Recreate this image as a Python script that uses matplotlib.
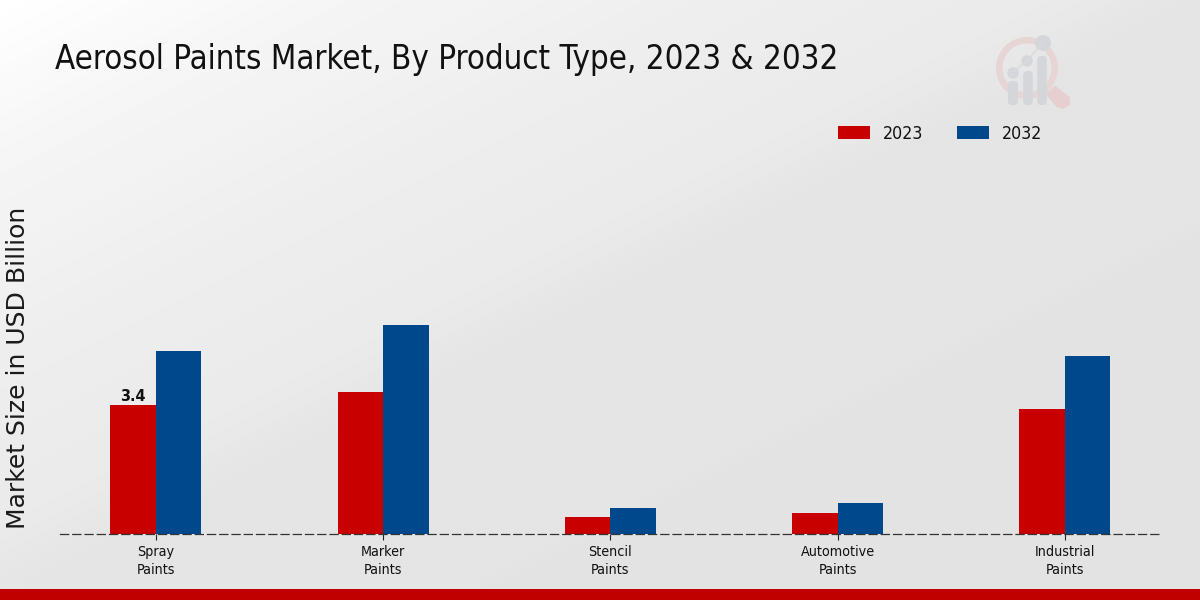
import numpy as np
import matplotlib
matplotlib.use("Agg")
import matplotlib.pyplot as plt
from matplotlib.font_manager import FontProperties
from matplotlib.patches import Circle, Wedge, FancyBboxPatch, Polygon, Rectangle
from matplotlib.lines import Line2D

categories = ["Spray\nPaints", "Marker\nPaints", "Stencil\nPaints", "Automotive\nPaints", "Industrial\nPaints"]
values_2023 = [3.4, 3.74, 0.46, 0.56, 3.3]
values_2032 = [4.82, 5.5, 0.69, 0.82, 4.68]
series_names = ["2023", "2032"]
title = "Aerosol Paints Market, By Product Type, 2023 & 2032"
ylabel = "Market Size in USD Billion"
RED = "#c80000"
BLUE = "#00488c"
COND = dict(family="DejaVu Sans", stretch="condensed")

fig = plt.figure(figsize=(12, 6), dpi=100)

# background gradient
bg = fig.add_axes([0, 0, 1, 1], zorder=0)
bg.axis("off")
yy, xx = np.mgrid[0:600:300j, 0:1200:600j]
t = xx * 0.5 + yy
g = np.interp(t, [0, 150, 350, 530, 600, 1110], [255, 246, 238, 234, 229, 227]) / 255
bg.imshow(g, cmap="gray", vmin=0, vmax=1, extent=[0, 1200, 600, 0], aspect="auto", interpolation="bilinear")
bg.set_xlim(0, 1200)
bg.set_ylim(600, 0)
bg.add_patch(Rectangle((0, 589), 1200, 11, color="#c00000", lw=0))

# watermark logo
LOGO_GREY = "#d4d6d9"
bg.add_patch(Wedge((1027, 68), 31, 0, 360, width=6.5, facecolor="#e7d5d6", edgecolor="none"))
bg.add_patch(Polygon([[1055, 87], [1069, 98], [1069, 104], [1063, 108], [1057, 106], [1047, 94]],
                     closed=True, facecolor="#e6cfd0", edgecolor="#e6cfd0", lw=1.5, joinstyle="round"))
for cx, top, wid in [(1013, 81, 10), (1028, 71, 9.5), (1042, 56, 9.5)]:
    bg.add_patch(FancyBboxPatch((cx - wid / 2, top), wid, 105 - top,
                                boxstyle="round,pad=0,rounding_size=4", facecolor=LOGO_GREY, edgecolor="none"))
bg.add_line(Line2D([1013, 1027, 1042], [72, 61, 43], color="#d8dadc", lw=1))
bg.add_patch(Circle((1013, 73), 5.7, facecolor=LOGO_GREY, edgecolor="none"))
bg.add_patch(Circle((1027, 61), 5.7, facecolor=LOGO_GREY, edgecolor="none"))
bg.add_patch(Circle((1043, 43), 8, facecolor=LOGO_GREY, edgecolor="none"))

# main chart
ax = fig.add_axes([60 / 1200, (600 - 534) / 600, 1100 / 1200, (534 - 130) / 600], zorder=1)
ax.patch.set_alpha(0)
x = np.arange(len(categories))
w = 0.2
b1 = ax.bar(x - w / 2, values_2023, w, color=RED, label=series_names[0])
b2 = ax.bar(x + w / 2, values_2032, w, color=BLUE, label=series_names[1])
ax.set_xlim(-0.4215, 4.4185)
ax.set_ylim(0, 404 / 37.94)
ax.set_yticks([])
ax.set_xticks(x)
ax.set_xticklabels(categories, fontsize=10.3, color="#111111", linespacing=1.375, **COND)
ax.tick_params(axis="x", length=4, width=0.8, pad=4, color="#222222")
for s in ["top", "right", "left"]:
    ax.spines[s].set_visible(False)
ax.spines["bottom"].set_linestyle((0, (6.5, 3.3)))
ax.spines["bottom"].set_linewidth(0.9)
ax.spines["bottom"].set_color("#333333")
ax.annotate(f"{values_2023[0]}", (x[0] - w / 2, values_2023[0]), xytext=(0, 1), textcoords="offset points",
            ha="center", va="bottom", fontsize=11.5, fontweight="bold", color="#111111", **COND)

fig.text(55 / 1200, 1 - 59 / 600, title, fontsize=23.7, color="#111111", va="center", ha="left", **COND)
fig.text(18 / 1200, 1 - 368 / 600, ylabel, fontsize=18, rotation=90, va="center", ha="center", color="#1a1a1a")

# legend
leg = ax.legend(handles=[b1, b2], loc="upper left", bbox_to_anchor=(769 / 1100, 1.035), ncol=2, frameon=False,
                handlelength=1.8, handleheight=0.68, columnspacing=1.9, handletextpad=0.73, borderpad=0,
                prop=FontProperties(family="DejaVu Sans", stretch="condensed", size=12.8))
for txt in leg.get_texts():
    txt.set_color("#111111")

fig.savefig("out.png", dpi=100)
